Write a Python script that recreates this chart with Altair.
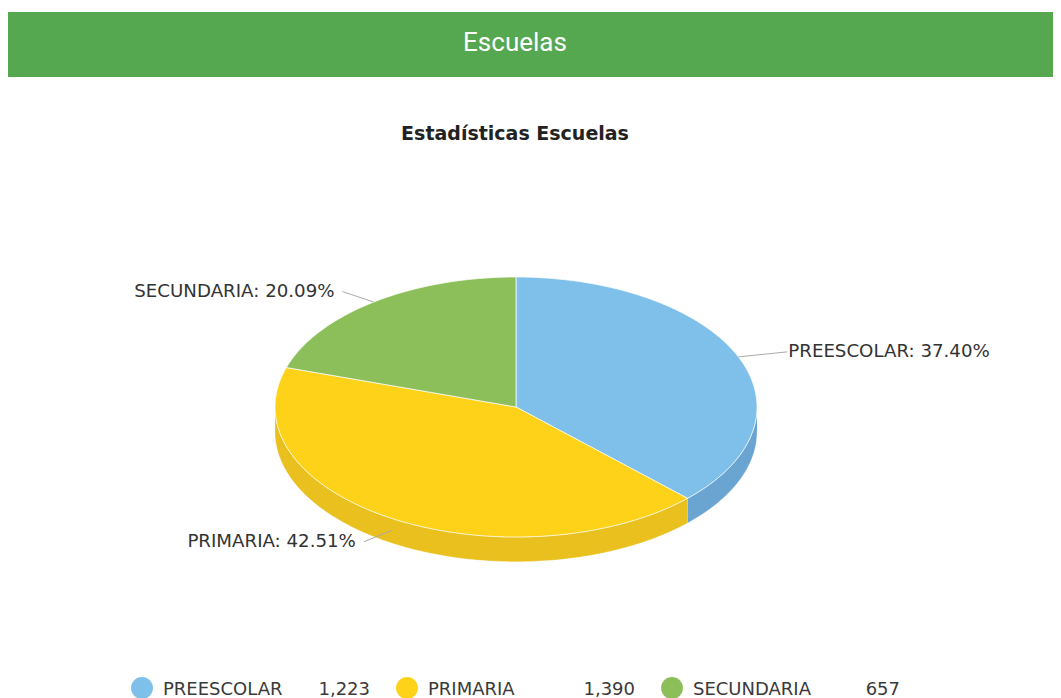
import numpy as np
import pandas as pd
import altair as alt

# ---- data ----
categories = ["PREESCOLAR", "PRIMARIA", "SECUNDARIA"]
values = [1223, 1390, 657]

# ---- styles ----
top_colors = ["#7EC0EA", "#FFD21A", "#8CBF5A"]
side_colors = ["#6AA5D2", "#EAC01E", "#7BAA4C"]
FONT = "DejaVu Sans"
T = 0.19  # pie thickness in y-units

total = float(sum(values))
fracs = [v / total for v in values]
starts = np.concatenate([[0.0], np.cumsum(fracs)[:-1]]) * 360.0
ends = np.cumsum(fracs) * 360.0


def arc(a0, a1):
    n = max(2, int(np.ceil(a1 - a0)) + 1)
    ang = np.radians(np.linspace(a0, a1, n))
    return np.sin(ang), -np.cos(ang)


rows = []
pid = 0
# side (front) walls first
for i, cat in enumerate(categories):
    s, e = max(starts[i], 90.0), min(ends[i], 270.0)
    if s < e:
        u, v = arc(s, e)
        k = 0
        for a, b in zip(u, v):
            rows.append(dict(pid=pid, k=k, px=a, py=b, fill=side_colors[i], part="side")); k += 1
        for a, b in zip(u[::-1], v[::-1]):
            rows.append(dict(pid=pid, k=k, px=a, py=b + T, fill=side_colors[i], part="side")); k += 1
        pid += 1
# top faces
for i, cat in enumerate(categories):
    u, v = arc(starts[i], ends[i])
    k = 0
    rows.append(dict(pid=pid, k=k, px=0.0, py=0.0, fill=top_colors[i], part="top")); k += 1
    for a, b in zip(u, v):
        rows.append(dict(pid=pid, k=k, px=a, py=b, fill=top_colors[i], part="top")); k += 1
    rows.append(dict(pid=pid, k=k, px=0.0, py=0.0, fill=top_colors[i], part="top"))
    pid += 1
poly = pd.DataFrame(rows)

lab_rows = []
for i, cat in enumerate(categories):
    mid = np.radians((starts[i] + ends[i]) / 2.0)
    u, v = np.sin(mid), -np.cos(mid)
    off = T / 2 if v > 0 else 0.0
    lab_rows.append(dict(
        cat=cat,
        label=f"{cat}: {fracs[i]*100:.2f}%",
        ex=u, ey=v + off,
        lx=1.22 * u, ly=1.1 * v + off,
        side="R" if u >= 0 else "L",
    ))
labels = pd.DataFrame(lab_rows)

legend = pd.DataFrame({
    "idx": list(range(len(categories))),
    "cat": categories,
    "val": [f"{v:,}" for v in values],
    "col": top_colors,
})

xs = alt.Scale(domain=[-1, 1], range=[267, 749], nice=False, zero=False)
ys = alt.Scale(domain=[-1, 1], range=[269, 529], nice=False, zero=False)

base_poly = alt.Chart(poly).encode(
    x=alt.X("px:Q", scale=xs, axis=None),
    y=alt.Y("py:Q", scale=ys, axis=None),
    detail="pid:N",
    order="k:Q",
    color=alt.Color("fill:N", scale=None),
)
sides = base_poly.transform_filter("datum.part == 'side'").mark_line(
    filled=True, stroke="#ffffff", strokeWidth=0.5, strokeOpacity=0.5)
tops = base_poly.transform_filter("datum.part == 'top'").mark_line(
    filled=True, stroke="#ffffff", strokeWidth=1, strokeOpacity=0.7)

lab_base = alt.Chart(labels)
leaders = lab_base.mark_rule(color="#aaaaaa", strokeWidth=1).encode(
    x=alt.X("ex:Q", scale=xs, axis=None),
    y=alt.Y("ey:Q", scale=ys, axis=None),
    x2="lx:Q", y2="ly:Q",
)
lab_r = lab_base.transform_filter("datum.side == 'R'").mark_text(
    align="left", baseline="middle", dx=1, font=FONT, fontSize=18.2, color="#333333"
).encode(x=alt.X("lx:Q", scale=xs, axis=None), y=alt.Y("ly:Q", scale=ys, axis=None), text="label:N")
lab_l = lab_base.transform_filter("datum.side == 'L'").mark_text(
    align="right", baseline="middle", dx=-8, font=FONT, fontSize=18.2, color="#333333"
).encode(x=alt.X("lx:Q", scale=xs, axis=None), y=alt.Y("ly:Q", scale=ys, axis=None), text="label:N")

one = pd.DataFrame({"z": [0]})
header = alt.Chart(one).mark_rect(color="#56A850").encode(
    x=alt.value(0), x2=alt.value(1045), y=alt.value(4), y2=alt.value(69))
header_txt = alt.Chart(one).mark_text(
    font="Roboto", fontSize=26, color="#ffffff", align="center", baseline="middle"
).encode(x=alt.value(507), y=alt.value(35), text=alt.value("Escuelas"))
title_txt = alt.Chart(one).mark_text(
    font=FONT, fontSize=19, fontWeight="bold", color="#222222", align="center", baseline="middle"
).encode(x=alt.value(507), y=alt.value(126), text=alt.value("Estadísticas Escuelas"))

lx = alt.Scale(domain=[0, 2], range=[134, 664], nice=False, zero=False)
leg_base = alt.Chart(legend)
leg_dots = leg_base.mark_point(shape="circle", filled=True, size=480, opacity=1).encode(
    x=alt.X("idx:Q", scale=lx, axis=None), y=alt.value(680),
    color=alt.Color("col:N", scale=None))
leg_names = leg_base.mark_text(
    align="left", baseline="middle", dx=21, font=FONT, fontSize=18, color="#3a3a3a"
).encode(x=alt.X("idx:Q", scale=lx, axis=None), y=alt.value(682), text="cat:N")
leg_vals = leg_base.mark_text(
    align="right", baseline="middle", dx=228, font=FONT, fontSize=18, color="#3a3a3a"
).encode(x=alt.X("idx:Q", scale=lx, axis=None), y=alt.value(682), text="val:N")

chart = alt.layer(
    header, header_txt, title_txt,
    sides, tops, leaders, lab_r, lab_l,
    leg_dots, leg_names, leg_vals,
).resolve_scale(x="independent", y="independent").properties(
    width=1045, height=690,
    autosize=alt.AutoSizeParams(type="none"),
    padding=0,
    background="#ffffff",
).configure_view(stroke=None)

chart.save("out.html", embed_options={"renderer": "svg", "actions": False})
